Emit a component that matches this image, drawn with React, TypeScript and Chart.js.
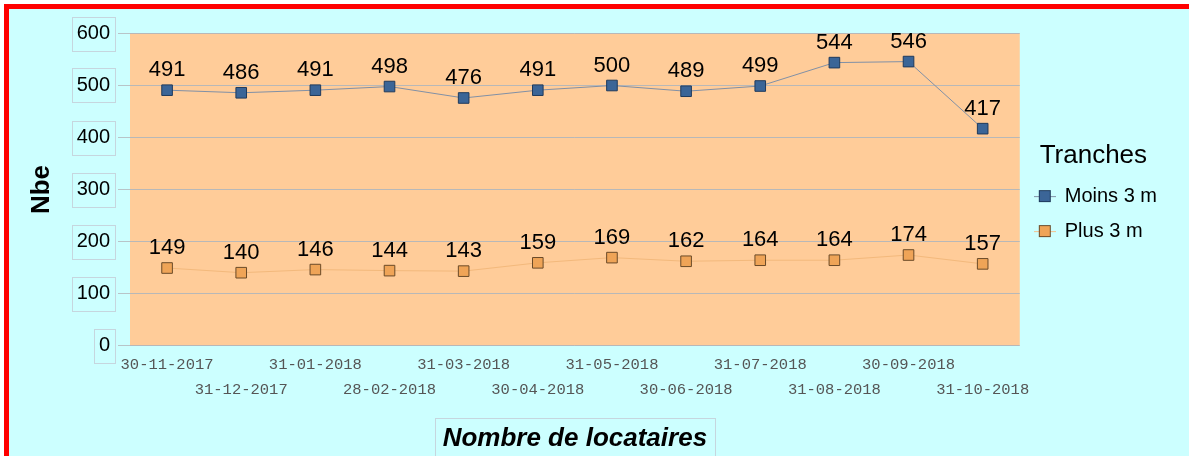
import React, { useEffect, useRef } from 'react';
import { Chart, registerables } from 'chart.js';

Chart.register(...registerables);

const dates = ['30-11-2017', '31-12-2017', '31-01-2018', '28-02-2018', '31-03-2018', '30-04-2018', '31-05-2018', '30-06-2018', '31-07-2018', '31-08-2018', '30-09-2018', '31-10-2018'];
const moins3m = [491, 486, 491, 498, 476, 491, 500, 489, 499, 544, 546, 417];
const plus3m = [149, 140, 146, 144, 143, 159, 169, 162, 164, 164, 174, 157];
const seriesNames = ['Moins 3 m', 'Plus 3 m'];
const yTicks = [0, 100, 200, 300, 400, 500, 600];
const xTitle = 'Nombre de locataires';
const yTitle = 'Nbe';
const legendTitle = 'Tranches';

const FONT = '"Liberation Sans", Arial, sans-serif';

function makeMarker(fill: string, stroke: string, line: string) {
  const c = document.createElement('canvas');
  c.width = 22;
  c.height = 14;
  const ctx = c.getContext('2d')!;
  ctx.strokeStyle = line;
  ctx.lineWidth = 1;
  ctx.beginPath();
  ctx.moveTo(0, 7.5);
  ctx.lineTo(22, 7.5);
  ctx.stroke();
  ctx.fillStyle = fill;
  ctx.fillRect(5, 1, 12, 12);
  ctx.strokeStyle = stroke;
  ctx.strokeRect(5.5, 1.5, 11, 11);
  return c;
}

const plotBg = {
  id: 'plotBg',
  beforeDraw(chart: any) {
    const { ctx, chartArea } = chart;
    ctx.save();
    ctx.fillStyle = '#ffcc99';
    ctx.fillRect(chartArea.left, chartArea.top, chartArea.right - chartArea.left, chartArea.bottom - chartArea.top);
    ctx.restore();
  },
};

const boxes = {
  id: 'boxes',
  afterDraw(chart: any) {
    const { ctx, chartArea } = chart;
    const y = chart.scales.y;
    const x = chart.scales.x;
    ctx.save();
    ctx.strokeStyle = '#c6d6de';
    ctx.lineWidth = 1;
    ctx.font = '20px ' + FONT;
    y.ticks.forEach((t: any) => {
      const py = y.getPixelForValue(t.value);
      const w = ctx.measureText(String(t.value)).width;
      const right = Math.round(y.right - 12 - 8 + 5) + 0.5;
      const left = Math.round(y.right - 12 - 8 - w - 5) + 0.5;
      ctx.strokeRect(left, Math.round(py - 17) + 0.5, right - left, 34);
    });
    ctx.font = 'italic bold 26px ' + FONT;
    const tw = ctx.measureText(xTitle).width;
    const cx = (chartArea.left + chartArea.right) / 2;
    const top = Math.round(x.bottom - 38) + 0.5;
    const l = Math.round(cx - tw / 2 - 8) + 0.5;
    const r = Math.round(cx + tw / 2 + 8) + 0.5;
    ctx.strokeRect(l, top, r - l, 60);
    ctx.restore();
  },
};

const valueLabels = {
  id: 'valueLabels',
  afterDatasetsDraw(chart: any) {
    const ctx = chart.ctx;
    ctx.save();
    ctx.font = '22px ' + FONT;
    ctx.fillStyle = '#000';
    ctx.textAlign = 'center';
    ctx.textBaseline = 'alphabetic';
    chart.data.datasets.forEach((ds: any, di: number) => {
      const meta = chart.getDatasetMeta(di);
      meta.data.forEach((pt: any, i: number) => {
        ctx.fillText(String(ds.data[i]), pt.x, pt.y - 14);
      });
    });
    ctx.restore();
  },
};

export default function App() {
  const ref = useRef<HTMLCanvasElement>(null);
  useEffect(() => {
    const canvas = ref.current!;
    const markers = [
      makeMarker('#3b6597', '#1f3a5c', '#8190a6'),
      makeMarker('#efa457', '#6a4a28', '#f3c08c'),
    ];
    Chart.defaults.font.family = FONT;
    Chart.defaults.color = '#000';
    const labels = dates.map((d, i) => (i % 2 ? ['', d] : d));
    const chart = new Chart(canvas, {
      type: 'line',
      data: {
        labels,
        datasets: [
          {
            label: seriesNames[0],
            data: moins3m,
            borderColor: '#8190a6',
            borderWidth: 1,
            backgroundColor: '#3b6597',
            pointBackgroundColor: '#3b6597',
            pointBorderColor: '#1f3a5c',
            pointBorderWidth: 1,
            pointStyle: 'rect',
            pointRadius: 7.5,
            tension: 0,
          },
          {
            label: seriesNames[1],
            data: plus3m,
            borderColor: '#f3b97c',
            borderWidth: 1,
            backgroundColor: '#efa457',
            pointBackgroundColor: '#efa457',
            pointBorderColor: '#6a4a28',
            pointBorderWidth: 1,
            pointStyle: 'rect',
            pointRadius: 7.5,
            tension: 0,
          },
        ],
      },
      options: {
        responsive: false,
        animation: false,
        devicePixelRatio: 1,
        layout: { padding: { top: 33.5, left: 0, right: 22, bottom: 0 } },
        plugins: {
          tooltip: { enabled: false },
          legend: {
            position: 'right',
            fullSize: false,
            title: {
              display: true,
              text: legendTitle,
              color: '#000',
              font: { size: 26, family: FONT },
              padding: { top: 20, bottom: -3 },
            },
            labels: {
              usePointStyle: true,
              pointStyleWidth: 20,
              padding: 15,
              color: '#000',
              font: { size: 20, family: FONT },
              generateLabels: (ch: any) =>
                Chart.defaults.plugins.legend.labels.generateLabels(ch).map((it: any, i: number) => ({
                  ...it,
                  pointStyle: markers[i],
                })),
            },
          },
        },
        scales: {
          x: {
            type: 'category',
            offset: true,
            grid: { display: false, drawTicks: false },
            border: { display: false },
            ticks: {
              autoSkip: false,
              maxRotation: 0,
              minRotation: 0,
              padding: 6.5,
              color: '#555',
              font: { family: '"Liberation Mono", monospace', size: 15.5, lineHeight: 25 / 15.5 },
            },
            title: {
              display: true,
              text: xTitle,
              color: '#000',
              font: { family: FONT, size: 26, weight: 'bold', style: 'italic' },
              padding: { top: 2, bottom: 2 },
            },
            afterFit: (s: any) => {
              s.height = 110.5;
            },
          },
          y: {
            min: 0,
            max: 600,
            grid: { color: '#b8b8b8', tickLength: 12, drawTicks: true, tickColor: '#b8c4c8' },
            border: { display: false },
            ticks: {
              padding: 8,
              color: '#000',
              font: { family: FONT, size: 20 },
            },
            afterBuildTicks: (s: any) => {
              s.ticks = yTicks.map((v) => ({ value: v }));
            },
            title: {
              display: true,
              text: yTitle,
              color: '#000',
              font: { family: FONT, size: 26, weight: 'bold' },
              padding: { top: 26, bottom: 26 },
            },
            afterFit: (s: any) => {
              s.width = 130;
            },
          },
        },
      },
      plugins: [plotBg, valueLabels, boxes],
    } as any);
    return () => chart.destroy();
  }, []);
  return (
    <div style={{ position: 'absolute', left: 0, top: 0, width: 1189, height: 456, background: '#ffffff', overflow: 'hidden' }}>
      <div
        style={{
          position: 'absolute',
          left: 4,
          top: 4,
          right: 0,
          bottom: 0,
          background: '#ccffff',
          borderTop: '5px solid #ff0000',
          borderLeft: '5px solid #ff0000',
        }}
      />
      <canvas ref={ref} width={1189} height={456} style={{ position: 'absolute', left: 0, top: 0, width: 1189, height: 456 }} />
    </div>
  );
}
